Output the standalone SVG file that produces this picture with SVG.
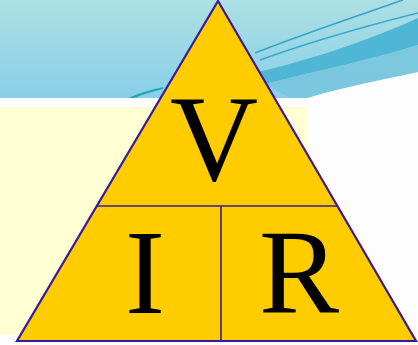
<svg xmlns="http://www.w3.org/2000/svg" width="418" height="345" viewBox="0 0 418 345">
<defs>
<linearGradient id="sky" x1="0" y1="0" x2="0" y2="1">
<stop offset="0" stop-color="#ace0e3"/>
<stop offset="1" stop-color="#88cfe8"/>
</linearGradient>
</defs>
<style>
.tri{stroke:#3a1a9c;stroke-width:2.2;fill:#ffcc00;stroke-linejoin:miter}
.div{stroke:#3a1a9c;stroke-width:1.6;fill:none}
.lbl{font-family:"Liberation Serif","Times New Roman",serif;fill:#000;text-anchor:middle}
</style>
<rect x="0" y="0" width="418" height="345" fill="#fdfdfd"/>
<path d="M0,0 H418 V72 C380,80 340,88 307,98 L307,99 H0 Z" fill="url(#sky)"/>
<path d="M258,72 C310,60 370,40 418,18 V45 C370,60 320,70 265,84 Z" fill="#4fb6d5"/>
<path d="M265,84 C320,70 370,60 418,45 V72 C380,80 340,88 307,98 H290 Z" fill="#76c4dd" opacity="0.8"/>
<path d="M255,53 C300,35 360,15 403,0" stroke="#36a4c8" stroke-width="1.6" fill="none"/>
<path d="M260,60 C310,42 370,25 418,13" stroke="#36a8cc" stroke-width="1.4" fill="none"/>
<path d="M128,98 C140,93 150,90 163,87 L163,89 C150,92 142,95 134,98 Z" fill="#1fa6b0"/>
<rect x="0" y="98" width="307" height="9" fill="#ffffff"/>
<rect x="0" y="107" width="307" height="228" fill="#ffffd4"/>
<g id="triangle">
<path d="M218,1 L416,341 L17,341 Z" class="tri"/>
</g>
<g id="connectors">
<line x1="97" y1="206" x2="338" y2="206" class="div"/>
<line x1="221" y1="206" x2="221" y2="341" class="div"/>
</g>
<g id="node-V"><text class="lbl" x="214" y="180" font-size="122">V</text></g>
<g id="node-I"><text class="lbl" x="145" y="313" font-size="120">I</text></g>
<g id="node-R"><text class="lbl" x="299" y="313" font-size="120">R</text></g>
</svg>
